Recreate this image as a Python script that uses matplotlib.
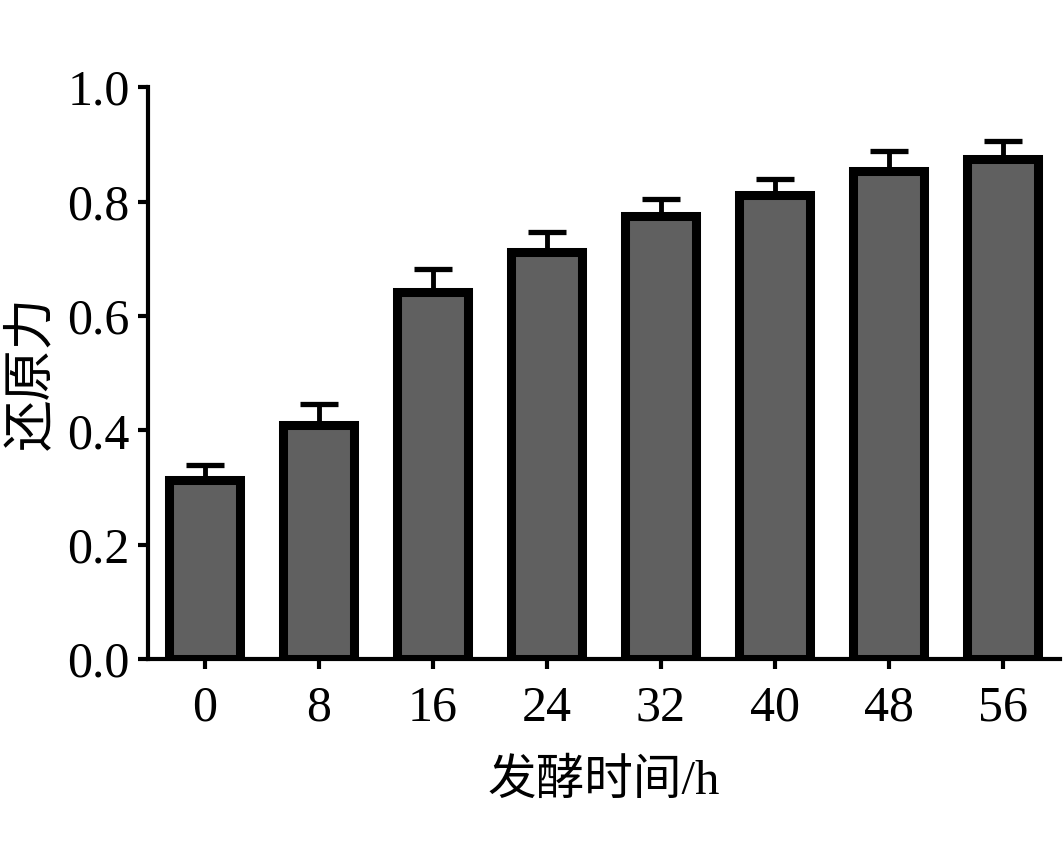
import matplotlib
matplotlib.use("Agg")
import matplotlib.pyplot as plt
import numpy as np

# fermentation time (h) and reducing power
times = ["0", "8", "16", "24", "32", "40", "48", "56"]
reducing_power = [0.313, 0.410, 0.642, 0.712, 0.774, 0.812, 0.853, 0.874]
errors = [0.026, 0.036, 0.040, 0.034, 0.030, 0.027, 0.035, 0.032]
yticks = [0.0, 0.2, 0.4, 0.6, 0.8, 1.0]

fonts = ['Liberation Serif', 'Noto Sans CJK SC']
plt.rcParams['font.family'] = fonts

fig = plt.figure(figsize=(10.63, 8.47), dpi=100)
ax = fig.add_axes([0.139, 0.222, 0.858, 0.675])

x = np.arange(len(times))
ax.bar(x, reducing_power, width=0.62, color='#606060', edgecolor='black',
       linewidth=6.5, zorder=3)
ax.errorbar(x, reducing_power, yerr=[np.zeros(len(errors)), errors], fmt='none',
            ecolor='black', elinewidth=3.5, capsize=13.5, capthick=3.8, zorder=2)

ax.set_xlim(-0.5, len(times) - 0.5)
ax.set_ylim(0, 1.0)
ax.set_xticks(x)
ax.set_xticklabels(times)
ax.set_yticks(yticks)
ax.set_yticklabels([f"{v:.1f}" for v in yticks])

for side in ['top', 'right']:
    ax.spines[side].set_visible(False)
for side in ['left', 'bottom']:
    ax.spines[side].set_linewidth(3)

ax.tick_params(axis='both', direction='out', length=7, width=3, labelsize=36)
ax.tick_params(axis='x', pad=12)
ax.tick_params(axis='y', pad=6)

ax.set_xlabel("发酵时间/h", fontsize=35, labelpad=19)
ax.set_ylabel("还原力", fontsize=37, labelpad=8)

fig.savefig("out.png", dpi=100)
